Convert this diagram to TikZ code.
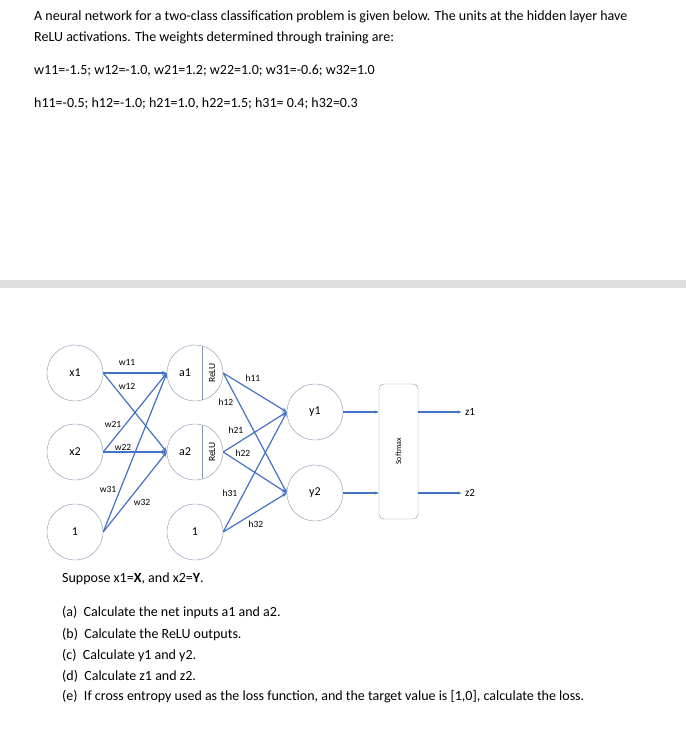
\documentclass[tikz,border=0pt]{standalone}
\usepackage{fontspec}
\setmainfont{Carlito}
\usetikzlibrary{arrows.meta}
\definecolor{eb}{HTML}{4472C4}
\definecolor{cg}{HTML}{8496B0}
\begin{document}
\begin{tikzpicture}[x=1pt,y=-1pt,
  txt/.style={anchor=west,inner sep=0,font=\fontsize{14}{16}\selectfont},
  neu/.style={circle,draw=cg,minimum size=56pt,inner sep=0,font=\fontsize{12}{14}\selectfont},
  edge/.style={draw=eb,line width=1.2pt,-{Stealth[length=5pt,width=4pt]}},
  lab/.style={font=\fontsize{9.5}{11}\selectfont,inner sep=0}]
\useasboundingbox (0,0) rectangle (686,737);
\fill[white] (0,0) rectangle (686,737);
\node[txt] at (34,17) {A neural network for a two-class classification problem is given below. The units at the hidden layer have};
\node[txt] at (34,38) {ReLU activations. The weights determined through training are:};
\node[txt] at (34,71) {w11=-1.5; w12=-1.0, w21=1.2; w22=1.0; w31=-0.6; w32=1.0};
\node[txt] at (34,104) {h11=-0.5; h12=-1.0; h21=1.0, h22=1.5; h31= 0.4; h32=0.3};
\fill[gray!25] (0,280) rectangle (686,288);
\node[neu] (x1) at (75,373) {x1};
\node[neu] (x2) at (75,452) {x2};
\node[neu] (b1) at (75,532) {1};
\node[neu] (a1) at (195,373) {};
\node[neu] (a2) at (195,452) {};
\node[neu] (b2) at (195,532) {1};
\node[neu] (y1) at (315,412) {y1};
\node[neu] (y2) at (315,493) {y2};
\foreach \n in {a1,a2}{
  \draw[cg] ([xshift=7pt]\n.center) ++(0,-27) -- ++(0,54);
  \node[font=\fontsize{12}{14}\selectfont] at ([xshift=-10pt]\n.center) {\n};
  \node[lab,rotate=90] at ([xshift=17pt]\n.center) {ReLU};
}
\node[draw=cg,rounded corners=5pt,minimum width=39pt,minimum height=135pt,inner sep=0] (sm) at (398.5,451.5) {};
\node[lab,rotate=90,font=\fontsize{8}{10}\selectfont] at (sm.center) {Softmax};
\node[font=\fontsize{11}{13}\selectfont] (z1) at (470,412) {z1};
\node[font=\fontsize{11}{13}\selectfont] (z2) at (470,493) {z2};
\foreach \s in {x1,x2,b1}\foreach \t in {a1,a2}
  \path[edge] (\s.east) -- (\t.west);
\foreach \s in {a1,a2,b2}\foreach \t in {y1,y2}
  \path[edge] (\s.east) -- (\t.west);
\draw[eb,line width=1.2pt,-{Stealth[length=4pt,width=3pt]}] (y1.east) -- (y1.east-|sm.west);
\draw[eb,line width=1.2pt,-{Stealth[length=4pt,width=3pt]}] (y2.east) -- (y2.east-|sm.west);
\draw[eb,line width=1.2pt,-{Stealth[length=4pt,width=3pt]}] (z1.west-|sm.east) -- (z1.west);
\draw[eb,line width=1.2pt,-{Stealth[length=4pt,width=3pt]}] (z2.west-|sm.east) -- (z2.west);
\node[lab] at (127,362) {w11};
\node[lab] at (127,386) {w12};
\node[lab] at (113,424) {w21};
\node[lab] at (123,447) {w22};
\node[lab] at (108,489) {w31};
\node[lab] at (142,502) {w32};
\node[lab] at (253,378) {h11};
\node[lab] at (226,402) {h12};
\node[lab] at (236,430) {h21};
\node[lab] at (243,453) {h22};
\node[lab] at (230,493) {h31};
\node[lab] at (256,524) {h32};
\node[txt] at (62,579) {Suppose x1=\textbf{X}, and x2=\textbf{Y}.};
\node[txt] at (62,612) {(a)\ \ Calculate the net inputs a1 and a2.};
\node[txt] at (62,634) {(b)\ \ Calculate the ReLU outputs.};
\node[txt] at (62,655) {(c)\ \ Calculate y1 and y2.};
\node[txt] at (62,676) {(d)\ \ Calculate z1 and z2.};
\node[txt] at (62,697) {(e)\ \ If cross entropy used as the loss function, and the target value is [1,0], calculate the loss.};
\end{tikzpicture}
\end{document}
